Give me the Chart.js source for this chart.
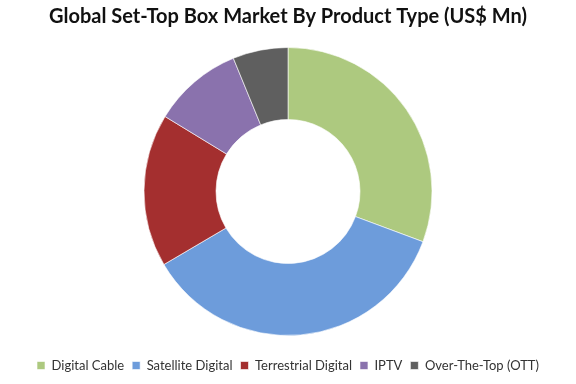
<!DOCTYPE html>
<html>
<head>
<meta charset="utf-8">
<script src="https://cdn.jsdelivr.net/npm/chart.js@4/dist/chart.umd.min.js"></script>
<style>
  html, body { margin: 0; padding: 0; background: #ffffff; }
  #wrap { width: 576px; height: 384px; position: relative; }
</style>
</head>
<body>
<div id="wrap"><canvas id="c" width="576" height="384"></canvas></div>
<script>
// Product segments and their market share (US$ Mn)
const categories = ['Digital Cable', 'Satellite Digital', 'Terrestrial Digital', 'IPTV', 'Over-The-Top (OTT)'];
const marketValues = [30.7, 35.9, 17.2, 10.1, 6.2];
const sliceColors = ['#adc97f', '#6d9cdb', '#a42f2f', '#8a72ad', '#5f5f5f'];

new Chart(document.getElementById('c'), {
  type: 'doughnut',
  data: {
    labels: categories,
    datasets: [{
      data: marketValues,
      backgroundColor: sliceColors,
      borderColor: 'rgba(255,255,255,0.6)',
      borderWidth: 1,
      radius: 144
    }]
  },
  options: {
    responsive: false,
    animation: false,
    cutout: '50%',
    layout: { padding: { top: 0, bottom: 2, left: 0, right: 0 } },
    plugins: {
      title: {
        display: true,
        text: 'Global Set-Top Box Market By Product Type (US$ Mn)',
        color: '#111111',
        font: { family: 'Lato', size: 20, weight: 'bold' },
        padding: { top: 5, bottom: 3 }
      },
      legend: {
        position: 'bottom',
        labels: {
          color: '#333333',
          font: { family: 'Lato', size: 13 },
          boxWidth: 8,
          boxHeight: 8,
          padding: 8
        }
      },
      tooltip: { enabled: false }
    }
  }
});
</script>
</body>
</html>
